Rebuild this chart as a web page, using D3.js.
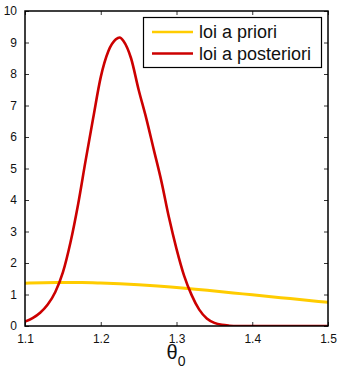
<!DOCTYPE html>
<html><head><meta charset="utf-8">
<script src="https://cdnjs.cloudflare.com/ajax/libs/d3/7.8.5/d3.min.js"></script>
<style>body{margin:0;background:#fff}svg{display:block}</style>
</head><body>
<script>
const priorTheta = [1.1,1.125,1.15,1.175,1.2,1.225,1.25,1.275,1.3,1.325,1.35,1.375,1.4,1.425,1.45,1.475,1.5];
const priorValues = [1.36,1.375,1.38,1.38,1.365,1.34,1.31,1.27,1.22,1.17,1.11,1.05,0.99,0.93,0.87,0.81,0.75];
const postTheta = [1.10,1.11,1.12,1.13,1.14,1.15,1.16,1.17,1.18,1.19,1.20,1.21,1.22,1.225,1.23,1.24,1.25,1.26,1.27,1.28,1.29,1.30,1.31,1.32,1.33,1.34,1.35,1.36,1.37,1.38,1.40,1.42,1.44,1.46,1.48,1.50];
const postValues = [0.14,0.25,0.42,0.68,1.08,1.70,2.65,3.85,5.25,6.6,7.9,8.72,9.1,9.16,9.05,8.5,7.5,6.6,5.6,4.6,3.45,2.45,1.6,0.98,0.52,0.24,0.1,0.035,0.01,0,0,0,0,0,0,0];
const xTicks = [1.1,1.2,1.3,1.4,1.5];
const yTicks = [0,1,2,3,4,5,6,7,8,9,10];
const legendLabels = ["loi a priori","loi a posteriori"];
const colors = ["#ffcc00","#cc0000"];

const W=338,H=367, L=25,R=328,T=11,B=326;
const svg=d3.select("body").append("svg").attr("width",W).attr("height",H);
const x=d3.scaleLinear().domain([1.1,1.5]).range([L,R]);
const y=d3.scaleLinear().domain([0,10]).range([B,T]);
const font="Liberation Sans, Arial, Helvetica, sans-serif";

const line=d3.line().x(d=>x(d[0])).y(d=>y(d[1])).curve(d3.curveMonotoneX);
const clip=svg.append("clipPath").attr("id","c").append("rect").attr("x",L).attr("y",T).attr("width",R-L).attr("height",B-T);
const g=svg.append("g").attr("clip-path","url(#c)");
g.append("path").datum(priorTheta.map((t,i)=>[t,priorValues[i]])).attr("d",line)
 .attr("fill","none").attr("stroke",colors[0]).attr("stroke-width",3);
g.append("path").datum(postTheta.map((t,i)=>[t,postValues[i]])).attr("d",line)
 .attr("fill","none").attr("stroke",colors[1]).attr("stroke-width",2.6);

// axes
const tk=4;
const xb=svg.append("g").attr("transform",`translate(0,${B})`).call(d3.axisBottom(x).tickValues(xTicks).tickFormat(d3.format(".1f")).tickSizeInner(-tk).tickSizeOuter(0).tickPadding(8));
const xt=svg.append("g").attr("transform",`translate(0,${T})`).call(d3.axisTop(x).tickValues(xTicks).tickFormat("").tickSizeInner(-tk).tickSizeOuter(0));
const yl=svg.append("g").attr("transform",`translate(${L},0)`).call(d3.axisLeft(y).tickValues(yTicks).tickSizeInner(-tk).tickSizeOuter(0).tickPadding(8));
const yr=svg.append("g").attr("transform",`translate(${R},0)`).call(d3.axisRight(y).tickValues(yTicks).tickFormat("").tickSizeInner(-tk).tickSizeOuter(0));
[xb,xt,yl,yr].forEach(a=>{a.select(".domain").remove();a.selectAll("line").attr("stroke","#000").attr("stroke-width",0.8);
 a.selectAll("text").attr("font-family",font).attr("font-size",12).attr("fill","#111");});
xb.selectAll("text").attr("dy","0.71em");
svg.append("rect").attr("x",L).attr("y",T).attr("width",R-L).attr("height",B-T).attr("fill","none").attr("stroke","#000").attr("stroke-width",1.5);

// x label
const xl=svg.append("text").attr("x",176).attr("y",359).attr("text-anchor","middle").attr("font-family",font).attr("fill","#111");
xl.append("tspan").attr("font-size",20).text("θ");
xl.append("tspan").attr("font-size",14).attr("dy",7).text("0");

// legend
const lg=svg.append("g");
lg.append("rect").attr("x",143.5).attr("y",17.5).attr("width",178).attr("height",50).attr("fill","#fff").attr("stroke","#000").attr("stroke-width",1.2);
legendLabels.forEach((lab,i)=>{
 const yy=32+i*21.5;
 lg.append("line").attr("x1",152).attr("x2",193).attr("y1",yy).attr("y2",yy).attr("stroke",colors[i]).attr("stroke-width",2.6);
 lg.append("text").attr("x",199).attr("y",yy+6).attr("font-family",font).attr("font-size",18).attr("fill","#111").text(lab);
});
</script>
</body></html>
